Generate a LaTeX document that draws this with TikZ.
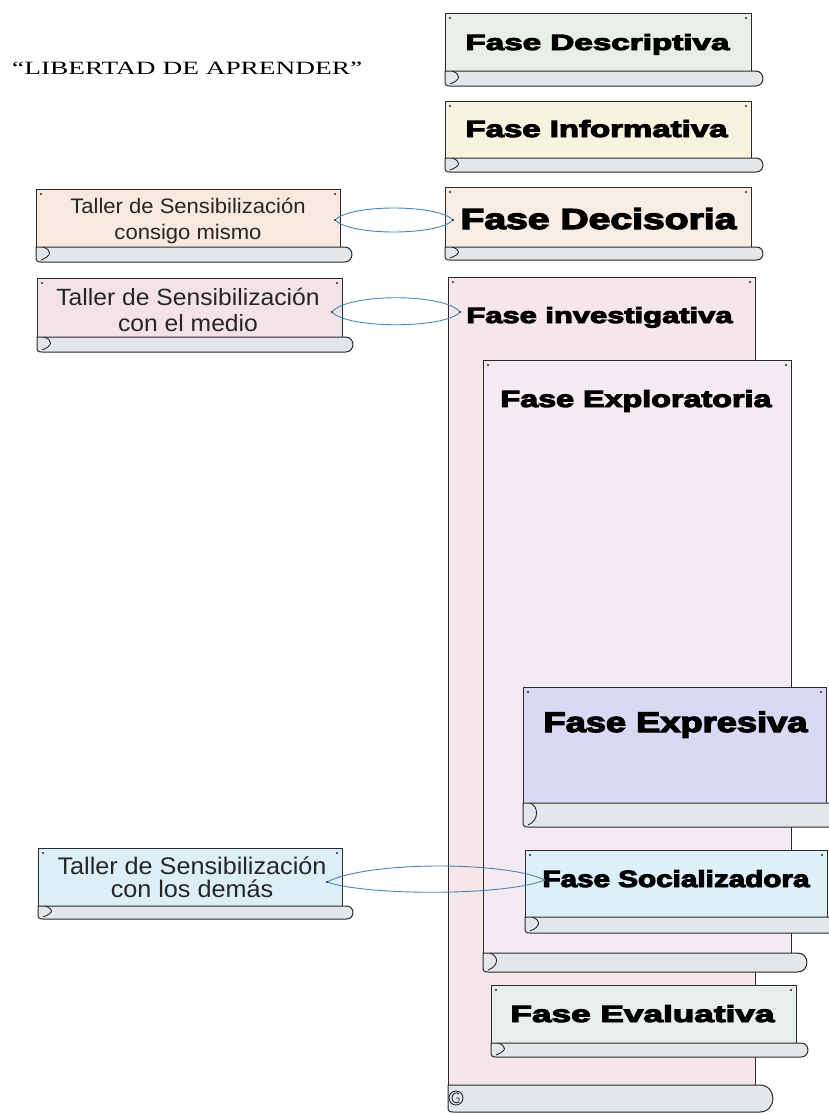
\documentclass[tikz,border=0pt]{standalone}
\usepackage{fontspec}
\usepackage{graphicx}
\newfontfamily\fasefont{Liberation Sans}[BoldFeatures={FakeBold=4}]
\newfontfamily\tallerfont{Liberation Sans}[FakeStretch=1.05]
\newfontfamily\titlefont{Liberation Serif}
\definecolor{descC}{HTML}{E9EEE6}
\definecolor{infoC}{HTML}{F6F4DE}
\definecolor{deciC}{HTML}{F8EDE4}
\definecolor{invC}{HTML}{F5E6EA}
\definecolor{explC}{HTML}{F3EBF1}
\definecolor{exprC}{HTML}{D9D9F3}
\definecolor{sociC}{HTML}{DDF0F7}
\definecolor{evalC}{HTML}{E8EEEC}
\definecolor{tOneC}{HTML}{F7E9E0}
\definecolor{tTwoC}{HTML}{F3E3E7}
\definecolor{tThreeC}{HTML}{DDEFF6}
\definecolor{rollC}{HTML}{E3E7EA}
\definecolor{loopC}{HTML}{4A86B8}
\definecolor{edgeC}{HTML}{2A2A2A}
\tikzset{
  scrollbody/.style={draw=edgeC, line width=1pt, rectangle, inner sep=0pt, outer sep=0pt, anchor=north west},
  rollpart/.style={draw=edgeC, line width=1pt, fill=rollC},
  curlline/.style={draw=edgeC, line width=0.9pt},
  cornerdot/.style={fill=edgeC},
  fasetext/.style={inner sep=0pt, anchor=base, text=black},
  tallertext/.style={inner sep=0pt, align=center, text=black!85},
  loopline/.style={draw=loopC, line width=0.9pt},
}
% roll: x0, yr, yb, xr
\newcommand\scrollroll[4]{%
  \pgfmathsetmacro\rlRX{#4-(#3-#2)/2}%
  \pgfmathsetmacro\rlXa{#1+5}%
  \pgfmathsetmacro\rlXb{#1+1}%
  \pgfmathsetmacro\rlXc{#1+7}%
  \pgfmathsetmacro\rlXd{#1+16}%
  \pgfmathsetmacro\rlYa{#3-1}%
  \pgfmathsetmacro\rlYb{#3-5}%
  \pgfmathsetmacro\rlYc{#2+3}%
  \pgfmathsetmacro\rlYd{#3-6}%
  \pgfmathsetmacro\rlYe{#3-2}%
  \filldraw[rollpart] (#1,#2) -- (\rlRX,#2) to[out=0,in=0,looseness=1.7] (\rlRX,#3) -- (\rlXa,#3) .. controls (\rlXb,#3) and (#1,\rlYa) .. (#1,\rlYb) -- cycle;
  \draw[curlline] (\rlXc,#2) .. controls (\rlXd,\rlYc) and (\rlXd,\rlYd) .. (\rlXa,\rlYe);
}
\newcommand\cmarks[1]{%
  \fill[cornerdot] ([xshift=5pt,yshift=-5pt]#1.north west) circle (1.1pt);
  \fill[cornerdot] ([xshift=-5pt,yshift=-5pt]#1.north east) circle (1.1pt);
}
\newcommand\fasetxt[3]{\resizebox{#1pt}{#2pt}{\fasefont\bfseries #3}}
\begin{document}
\begin{tikzpicture}[x=1pt,y=-1pt]
\useasboundingbox (0,0) rectangle (829,1114);
\clip (0,0) rectangle (829,1114);
\fill[white] (0,0) rectangle (829,1114);

% title
\node[inner sep=0pt, anchor=base west] (title) at (12,74) {\resizebox{350pt}{12.5pt}{\titlefont “LIBERTAD DE APRENDER”}};

% right column, top three
\node[scrollbody, fill=descC, minimum width=306pt, minimum height=58pt] (b-desc) at (445,13) {};
\scrollroll{445}{71}{86}{763}
\cmarks{b-desc}
\node[scrollbody, fill=infoC, minimum width=306pt, minimum height=57pt] (b-info) at (445,101) {};
\scrollroll{445}{158}{172}{763}
\cmarks{b-info}
\node[scrollbody, fill=deciC, minimum width=306pt, minimum height=60pt] (b-deci) at (445,187) {};
\scrollroll{445}{247}{260}{763}
\cmarks{b-deci}

% investigativa (large)
\node[scrollbody, fill=invC, minimum width=307pt, minimum height=808pt] (b-inv) at (448,277) {};
\filldraw[rollpart] (448,1085) -- (759.5,1085) to[out=0,in=0,looseness=1.7] (759.5,1112) -- (453,1112) .. controls (449,1112) and (448,1111) .. (448,1107) -- cycle;
\draw[curlline] (456,1098) circle (7pt);
\draw[curlline] (459,1094) .. controls (456,1091) and (452,1094) .. (452,1098) .. controls (452,1102) and (456,1104) .. (459,1102) -- (459,1098) -- (456,1098);
\cmarks{b-inv}

% exploratoria
\node[scrollbody, fill=explC, minimum width=308pt, minimum height=593pt] (b-expl) at (483,360) {};
\scrollroll{483}{953}{972}{807}
\cmarks{b-expl}

% expresiva
\node[scrollbody, fill=exprC, minimum width=303pt, minimum height=116pt] (b-expr) at (523,687) {};
\scrollroll{523}{803}{827}{850}
\cmarks{b-expr}

% socializadora
\node[scrollbody, fill=sociC, minimum width=302pt, minimum height=67pt] (b-soc) at (525,850) {};
\scrollroll{525}{917}{933}{850}
\cmarks{b-soc}

% evaluativa
\node[scrollbody, fill=evalC, minimum width=305pt, minimum height=58pt] (b-eval) at (491,985) {};
\scrollroll{491}{1043}{1057}{808}
\cmarks{b-eval}

% left column
\node[scrollbody, fill=tOneC, minimum width=304pt, minimum height=58pt] (b-t1) at (36,189) {};
\scrollroll{36}{247}{262}{352}
\cmarks{b-t1}
\node[scrollbody, fill=tTwoC, minimum width=305pt, minimum height=59pt] (b-t2) at (37,278) {};
\scrollroll{37}{337}{352}{353}
\cmarks{b-t2}
\node[scrollbody, fill=tThreeC, minimum width=304pt, minimum height=58pt] (b-t3) at (38,848) {};
\scrollroll{38}{906}{919}{353}
\cmarks{b-t3}

% texts
\node[fasetext] (desc) at (597.5,50) {\fasetxt{264}{16}{Fase Descriptiva}};
\node[fasetext] (info) at (596.5,137) {\fasetxt{262}{17}{Fase Informativa}};
\node[fasetext] (deci) at (598.5,229) {\fasetxt{276}{21}{Fase Decisoria}};
\node[fasetext] (inv) at (599.5,323) {\fasetxt{266}{16}{Fase investigativa}};
\node[fasetext] (expl) at (636,407) {\fasetxt{271}{17}{Fase Exploratoria}};
\node[fasetext] (expr) at (675.5,732) {\fasetxt{264}{20.5}{Fase Expresiva}};
\node[fasetext] (soc) at (676,887) {\fasetxt{267}{17}{Fase Socializadora}};
\node[fasetext] (eval) at (642.5,1022) {\fasetxt{264}{17}{Fase Evaluativa}};

\node[tallertext, font=\tallerfont\fontsize{21}{26}\selectfont] (t1) at (188,221) {Taller de Sensibilización\\consigo mismo};
\node[tallertext, font=\tallerfont\fontsize{23.5}{26}\selectfont] (t2) at (188,310) {Taller de Sensibilización\\con el medio};
\node[tallertext, font=\tallerfont\fontsize{24}{23}\selectfont] (t3) at (192,877) {Taller de Sensibilización\\con los demás};

% connectors (loops)
\draw[loopline] ([xshift=-5pt,yshift=-2pt]b-t1.east) .. controls +(15,-16) and +(-15,-16) .. ([xshift=8pt,yshift=-3pt]b-deci.west);
\draw[loopline] ([xshift=-5pt,yshift=-2pt]b-t1.east) .. controls +(15,16) and +(-15,16) .. ([xshift=8pt,yshift=-3pt]b-deci.west);
\draw[loopline] ([xshift=-10pt,yshift=-4.5pt]b-t2.east) .. controls +(15,-19) and +(-15,-19) .. ([xshift=12pt,yshift=-35pt]b-inv.north west);
\draw[loopline] ([xshift=-10pt,yshift=-4.5pt]b-t2.east) .. controls +(15,17) and +(-15,17) .. ([xshift=12pt,yshift=-35pt]b-inv.north west);
\draw[loopline] ([xshift=-15pt,yshift=-5pt]b-t3.east) .. controls +(40,-21) and +(-40,-19) .. ([xshift=20pt,yshift=3.5pt]b-soc.west);
\draw[loopline] ([xshift=-15pt,yshift=-5pt]b-t3.east) .. controls +(40,14) and +(-40,16) .. ([xshift=20pt,yshift=3.5pt]b-soc.west);
\fill[cornerdot] ([xshift=-5pt,yshift=-2pt]b-t1.east) circle (1.1pt);
\fill[cornerdot] ([xshift=8pt,yshift=-3pt]b-deci.west) circle (1.1pt);
\fill[cornerdot] ([xshift=-10pt,yshift=-4.5pt]b-t2.east) circle (1.1pt);
\fill[cornerdot] ([xshift=12pt,yshift=-35pt]b-inv.north west) circle (1.1pt);
\fill[cornerdot] ([xshift=-15pt,yshift=-5pt]b-t3.east) circle (1.1pt);
\end{tikzpicture}
\end{document}
